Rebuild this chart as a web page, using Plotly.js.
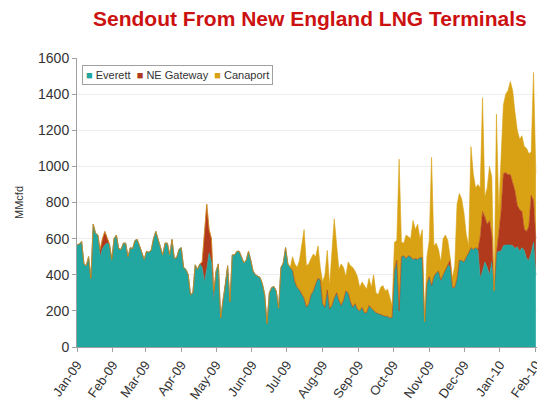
<!DOCTYPE html>
<html>
<head>
<meta charset="utf-8">
<script src="https://cdn.plot.ly/plotly-3.0.1.min.js"></script>
<style>html,body{margin:0;padding:0;background:#fff;}#chart{width:537px;height:416px;}</style>
</head>
<body>
<div id="chart"></div>
<script>
// Sample dates: every 2 days starting 2009-01-01
const startDate = '2009-01-01';
const stepDays = 2;

const seriesNames = ['Everett', 'NE Gateway', 'Canaport'];
const seriesColors = ['#22A6A0', '#B23A1C', '#D9A214'];

// MMcfd (2-day samples)
const everett = [
  565,570,585,460,450,500,380,680,630,620,
  500,545,565,575,570,485,600,620,545,540,
  575,575,500,550,545,590,595,560,520,485,
  530,525,535,600,640,600,555,510,575,575,
  510,595,490,495,540,550,440,430,400,290,
  300,455,430,460,440,360,430,520,470,250,
  420,460,160,260,340,450,250,510,510,530,
  530,500,465,480,530,480,420,400,390,385,
  350,290,130,300,330,335,310,215,440,465,
  550,460,440,425,360,330,315,290,270,220,
  240,290,310,350,380,370,240,220,315,210,
  230,270,300,260,230,260,310,300,250,220,
  240,210,200,220,190,190,230,215,200,190,
  185,180,175,170,170,160,165,420,480,200,
  500,505,490,505,500,485,490,485,495,495,
  140,350,390,340,390,410,420,370,400,430,
  460,440,330,330,380,480,480,470,500,520,
  550,540,550,540,380,420,470,440,400,470,
  310,520,530,530,560,565,565,565,560,545,
  555,530,550,535,490,480,520,580,400
];
const neGateway = [
  0,0,0,0,0,0,0,0,0,0,
  40,55,75,35,0,0,0,0,0,0,
  0,0,0,0,0,0,0,0,0,0,
  0,0,0,0,0,0,0,0,0,0,
  0,0,0,0,0,0,0,0,0,0,
  0,0,0,0,30,300,360,130,130,60,
  0,0,0,0,0,0,0,0,0,0,
  0,0,0,0,0,0,0,0,0,0,
  0,0,0,0,0,0,0,0,0,0,
  0,0,0,0,0,0,0,0,0,0,
  0,0,0,0,0,0,0,0,0,0,
  0,0,0,0,0,0,0,0,0,0,
  0,0,0,0,0,0,0,0,0,0,
  0,0,0,0,0,0,0,0,0,0,
  0,0,0,0,0,0,0,0,0,0,
  0,0,0,0,0,0,0,0,0,0,
  0,40,0,0,0,0,0,0,0,0,
  0,0,0,0,230,330,250,240,300,150,
  0,0,100,220,400,400,390,390,350,320,
  230,230,200,120,150,190,320,230,200
];
const canaport = [
  0,0,0,0,0,0,0,0,0,0,
  0,0,0,0,0,0,0,0,0,0,
  0,0,0,0,0,0,0,0,0,0,
  0,0,0,0,0,0,0,0,0,0,
  0,0,0,0,0,0,0,0,0,0,
  0,0,0,0,0,0,0,0,0,0,
  0,0,0,0,0,0,0,0,0,0,
  0,0,0,0,0,0,0,0,0,0,
  0,0,0,0,0,0,0,0,0,0,
  0,0,0,75,100,110,165,290,380,230,
  220,200,205,150,180,70,120,180,220,130,
  290,440,270,170,230,180,80,170,200,220,
  180,180,130,140,150,130,150,115,200,110,
  105,150,165,140,150,110,65,160,110,840,
  80,70,130,105,100,215,160,195,105,155,
  0,150,200,710,170,165,120,100,200,190,
  130,20,50,120,410,370,340,270,120,40,
  560,420,330,360,270,630,110,200,300,320,
  0,770,120,300,380,435,465,515,510,435,
  415,390,420,455,460,400,240,710,360
];

function buildDates(start, step, n) {
  const t0 = Date.parse(start + 'T00:00:00Z');
  const out = [];
  for (let i = 0; i < n; i++) {
    out.push(new Date(t0 + i * step * 86400000).toISOString().slice(0, 10));
  }
  return out;
}
const dates = buildDates(startDate, stepDays, everett.length);

const seriesValues = [everett, neGateway, canaport];
const traces = seriesValues.map((vals, i) => ({
  type: 'scatter',
  mode: 'lines',
  x: dates,
  y: vals,
  name: seriesNames[i],
  stackgroup: 'one',
  line: {width: 0.6, color: seriesColors[i], shape: 'linear'},
  fillcolor: seriesColors[i],
  showlegend: false,
  hoverinfo: 'x+y+name'
}));

const legendText = seriesNames.map((n, i) =>
  '<span style="color:' + seriesColors[i] + '">■</span> ' + n).join('  ');

const layout = {
  width: 537,
  height: 416,
  margin: {l: 77, r: 0, t: 58, b: 69},
  paper_bgcolor: '#ffffff',
  plot_bgcolor: '#ffffff',
  font: {family: 'Liberation Sans, Arial, sans-serif', color: '#333333', size: 13},
  title: {
    text: '<b>Sendout From New England LNG Terminals</b>',
    font: {family: 'Liberation Sans, Arial, sans-serif', size: 21, color: '#CC1111'},
    x: 0.577, xanchor: 'center', xref: 'container',
    y: 0.955, yanchor: 'middle'
  },
  xaxis: {
    type: 'date',
    range: ['2009-01-01', '2010-02-02'],
    tickformat: '%b-%y',
    dtick: 'M1',
    tick0: '2009-01-01',
    tickangle: -55,
    ticks: 'outside',
    ticklen: 4,
    tickcolor: '#A0A0A0',
    ticklabeloverflow: 'allow',
    showline: true,
    linecolor: '#A0A0A0',
    linewidth: 1,
    showgrid: false,
    zeroline: false,
    tickfont: {size: 13, color: '#333333'}
  },
  yaxis: {
    range: [0, 1600],
    dtick: 200,
    ticks: 'outside',
    ticklen: 4,
    tickcolor: '#A0A0A0',
    showline: true,
    linecolor: '#A0A0A0',
    linewidth: 1,
    showgrid: true,
    gridcolor: '#EDEDED',
    zeroline: false,
    tickfont: {size: 14, color: '#333333'},
    title: {text: 'MMcfd', font: {size: 11, color: '#333333'}, standoff: 12}
  },
  annotations: [{
    xref: 'paper', yref: 'paper',
    x: 0.011, y: 0.976, xanchor: 'left', yanchor: 'top',
    text: legendText,
    showarrow: false,
    align: 'left',
    font: {size: 11, color: '#333333'},
    bordercolor: '#A0A0A0', borderwidth: 1, borderpad: 3,
    bgcolor: '#ffffff'
  }]
};

Plotly.newPlot('chart', traces, layout, {displayModeBar: false, staticPlot: true});
</script>
</body>
</html>
